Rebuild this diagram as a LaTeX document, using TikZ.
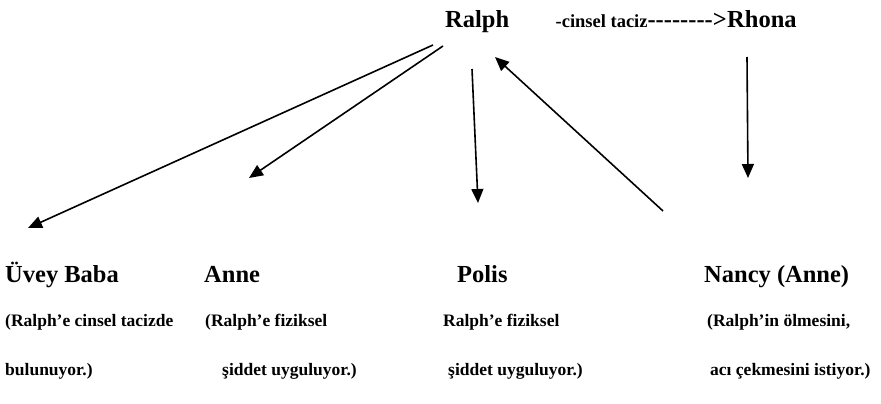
\documentclass[tikz,border=0pt]{standalone}
\usepackage{fontspec}
\setmainfont{Liberation Serif}
\usetikzlibrary{arrows.meta}

\begin{document}
\begin{tikzpicture}[x=1pt,y=-1pt,
  head/.style={font=\fontsize{24.5}{28}\selectfont\bfseries, inner sep=0pt, anchor=base west},
  note/.style={font=\fontsize{17.5}{20}\selectfont\bfseries, inner sep=0pt, anchor=base west},
  arr/.style={line width=1.6pt, -{Triangle[length=14pt,width=12pt]}}]
  \useasboundingbox (0,0) rectangle (881,404);
  \node[head] (ralph) at (445,28) {Ralph};
  \node[head] (rhona) at (727,28) {Rhona};
  \node[head, anchor=base east] (taciz) at (rhona.base west)
    {{\fontsize{18.5}{20}\selectfont -cinsel taciz}-{}-{}-{}-{}-{}-{}-{}->};
  \node[head] (uvey) at (5,282) {Üvey Baba};
  \node[head] (anne) at (204,282) {Anne};
  \node[head] (polis) at (457,282) {Polis};
  \node[head] (nancy) at (704,282) {Nancy (Anne)};
  \node[note] (uvey1) at (5,326) {(Ralph’e cinsel tacizde};
  \node[note] (uvey2) at (5,375) {bulunuyor.)};
  \node[note] (anne1) at (205,326) {(Ralph’e fiziksel};
  \node[note] (anne2) at (222,375) {şiddet uyguluyor.)};
  \node[note] (polis1) at (443,326) {Ralph’e fiziksel};
  \node[note] (polis2) at (448,375) {şiddet uyguluyor.)};
  \node[note] (nancy1) at (707,326) {(Ralph’in ölmesini,};
  \node[note] (nancy2) at (710,375) {acı çekmesini istiyor.)};
  \coordinate (r1) at (433,45);
  \coordinate (r2) at (443,46);
  \coordinate (r3) at (472,69);
  \coordinate (r4) at (495,57);
  \coordinate (rh) at (747,57);
  \coordinate (u) at (28,228);
  \coordinate (a) at (249,178);
  \coordinate (p) at (478,203);
  \coordinate (n) at (663,211);
  \coordinate (rn) at (748,178);
  \draw[arr] (r1) -- (u);
  \draw[arr] (r2) -- (a);
  \draw[arr] (r3) -- (p);
  \draw[arr] (n) -- (r4);
  \draw[arr] (rh) -- (rn);
\end{tikzpicture}
\end{document}
